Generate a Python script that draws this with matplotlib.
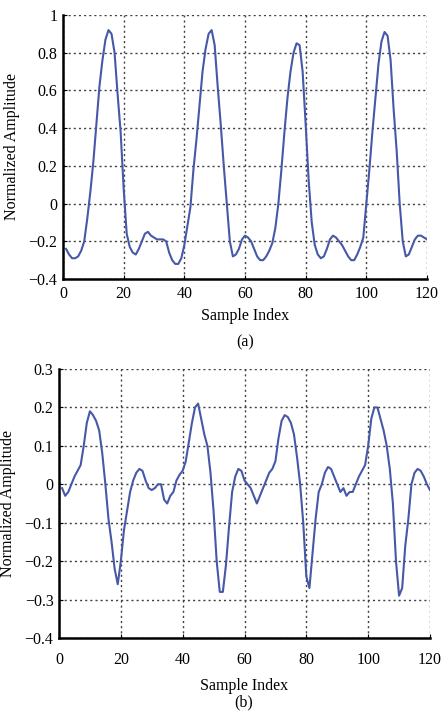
import numpy as np
import matplotlib
matplotlib.use("Agg")
import matplotlib.pyplot as plt
from matplotlib.ticker import FuncFormatter

sample_index = list(range(1, 121))

signal_a = [
    -0.24, -0.27, -0.29, -0.29, -0.28, -0.25, -0.20, -0.08, 0.06, 0.22,
    0.42, 0.62, 0.76, 0.87, 0.92, 0.90, 0.80, 0.58, 0.38, 0.08,
    -0.16, -0.23, -0.26, -0.27, -0.24, -0.20, -0.16, -0.15, -0.17, -0.18,
    -0.19, -0.19, -0.19, -0.20, -0.26, -0.30, -0.32, -0.32, -0.29, -0.22,
    -0.12, -0.02, 0.18, 0.34, 0.52, 0.70, 0.82, 0.90, 0.92, 0.84,
    0.62, 0.42, 0.20, 0.00, -0.20, -0.28, -0.27, -0.24, -0.19, -0.17,
    -0.18, -0.20, -0.24, -0.28, -0.30, -0.30, -0.28, -0.25, -0.21, -0.13,
    0.00, 0.18, 0.38, 0.56, 0.70, 0.80, 0.85, 0.84, 0.70, 0.42,
    0.12, -0.10, -0.22, -0.27, -0.29, -0.28, -0.24, -0.19, -0.17, -0.18,
    -0.20, -0.22, -0.25, -0.28, -0.30, -0.30, -0.27, -0.23, -0.18, 0.00,
    0.18, 0.38, 0.56, 0.74, 0.86, 0.91, 0.89, 0.76, 0.50, 0.28,
    0.00, -0.20, -0.28, -0.27, -0.23, -0.19, -0.17, -0.17, -0.18, -0.19,
]

signal_b = [
    -0.01, -0.03, -0.02, 0.00, 0.02, 0.035, 0.05, 0.10, 0.16, 0.19,
    0.18, 0.165, 0.14, 0.08, 0.00, -0.09, -0.15, -0.22, -0.26, -0.20,
    -0.12, -0.07, -0.02, 0.01, 0.03, 0.04, 0.035, 0.01, -0.01, -0.015,
    -0.01, 0.00, 0.00, -0.04, -0.05, -0.03, -0.02, 0.01, 0.025, 0.035,
    0.06, 0.11, 0.16, 0.20, 0.21, 0.17, 0.13, 0.10, 0.03, -0.07,
    -0.20, -0.28, -0.28, -0.21, -0.11, -0.02, 0.02, 0.04, 0.035, 0.01,
    0.00, -0.01, -0.03, -0.05, -0.03, -0.01, 0.01, 0.03, 0.04, 0.06,
    0.12, 0.165, 0.18, 0.175, 0.16, 0.13, 0.07, 0.00, -0.10, -0.24,
    -0.27, -0.18, -0.09, -0.02, 0.00, 0.03, 0.045, 0.04, 0.02, 0.00,
    -0.02, -0.01, -0.03, -0.02, -0.02, 0.00, 0.02, 0.035, 0.05, 0.10,
    0.17, 0.20, 0.20, 0.17, 0.14, 0.10, 0.04, -0.05, -0.20, -0.29,
    -0.27, -0.16, -0.09, 0.00, 0.03, 0.04, 0.035, 0.02, 0.00, -0.015,
]

x_ticks = [0, 20, 40, 60, 80, 100, 120]
y_ticks_a = [-0.4, -0.2, 0, 0.2, 0.4, 0.6, 0.8, 1]
y_ticks_b = [-0.4, -0.3, -0.2, -0.1, 0, 0.1, 0.2, 0.3]

plt.rcParams['font.family'] = ['Liberation Serif', 'DejaVu Serif']
plt.rcParams['axes.unicode_minus'] = True

fig = plt.figure(figsize=(4.43, 7.11), dpi=100)
line_color = '#4658a8'


def fmt(v, pos):
    s = '%g' % round(v, 3)
    return s.replace('-', '\u2212')


def style(ax, yticks, xpad, xlabelpad):
    ax.set_xlim(0, 120)
    ax.set_ylim(yticks[0], yticks[-1])
    ax.set_xticks(x_ticks)
    ax.set_yticks(yticks)
    ax.xaxis.set_major_formatter(FuncFormatter(fmt))
    ax.yaxis.set_major_formatter(FuncFormatter(fmt))
    ax.grid(True, linestyle=(0, (1.5, 2.2)), color='0.25', linewidth=1.0)
    ax.spines['top'].set_visible(False)
    ax.spines['right'].set_visible(False)
    ax.spines['left'].set_linewidth(1.8)
    ax.spines['bottom'].set_linewidth(1.8)
    ax.tick_params(direction='in', length=3, labelsize=11.5, pad=4)
    ax.tick_params(axis='x', pad=xpad)
    ax.set_xlabel('Sample Index', fontsize=11.5, labelpad=xlabelpad)
    ax.set_ylabel('Normalized Amplitude', fontsize=11.5, labelpad=6)


ax1 = fig.add_axes([63 / 443, 1 - 279 / 711, 364 / 443, 264 / 711])
ax1.plot(sample_index, signal_a, color=line_color, linewidth=1.5)
style(ax1, y_ticks_a, 5, 4)
fig.text(245 / 443, 1 - 342 / 711, '(a)', ha='center', va='center', fontsize=11.5)

ax2 = fig.add_axes([59 / 443, 1 - 638 / 711, 371 / 443, 269 / 711])
ax2.plot(sample_index, signal_b, color=line_color, linewidth=1.5)
style(ax2, y_ticks_b, 10, 7)
fig.text(244 / 443, 1 - 702 / 711, '(b)', ha='center', va='center', fontsize=11.5)

fig.savefig('out.png', dpi=100)
